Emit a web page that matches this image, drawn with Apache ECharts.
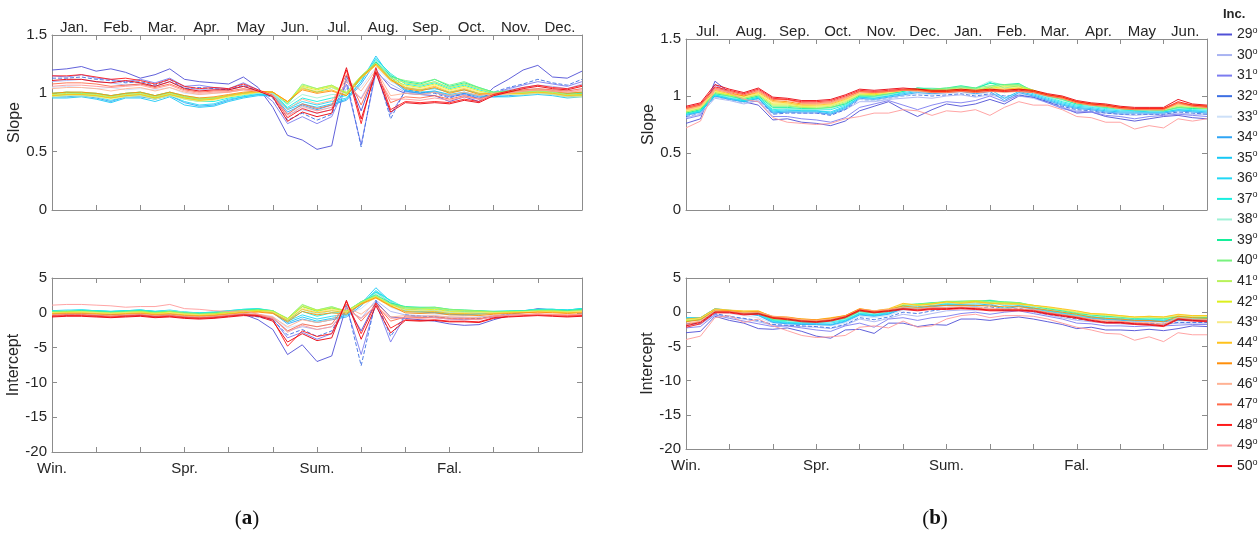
<!DOCTYPE html>
<html>
<head>
<meta charset="utf-8">
<script src="https://cdn.jsdelivr.net/npm/echarts@6/dist/echarts.min.js"></script>
<style>
  html, body { margin: 0; padding: 0; background: #fff; }
  #chart { width: 1260px; height: 534px; }
</style>
</head>
<body>
<div id="chart"></div>
<script>
// Inclination classes (degrees) and their line colours
const inclinations = ['29','30','31','32','33','34','35','36','37','38','39','40','41','42','43','44','45','46','47','48','49','50'];
const lineColors = ['#5050d6','#a9b4f2','#7c7cf0','#3d6fe3','#cde0f8','#2fa5f5','#18c8f5','#22d8f6','#16efe0','#9ff2d6','#14ee9a',
  '#78f27e','#b8f25a','#dcef1c','#f7ea86','#ffc21c','#ff8f0a','#ffb294','#ff6a4a','#ff1a1a','#ff9a9a','#e8000a'];

// Axis labels
const monthsA = ['Jan.','Feb.','Mar.','Apr.','May','Jun.','Jul.','Aug.','Sep.','Oct.','Nov.','Dec.'];
const monthsB = ['Jul.','Aug.','Sep.','Oct.','Nov.','Dec.','Jan.','Feb.','Mar.','Apr.','May','Jun.'];
const seasonLabels = ['Win.','Spr.','Sum.','Fal.'];

// (a) slope, 10-day steps from 1 Jan to 31 Dec, one row per inclination
const slopeA = [
  [1.20,1.21,1.23, 1.19,1.21,1.18, 1.13,1.16,1.21, 1.12,1.10,1.09, 1.08,1.14,1.05, 0.88,0.64,0.60, 0.52,0.55,1.15, 0.85,1.20,1.05, 1.00,0.99,0.98, 0.93,0.97,0.93, 1.05,1.12,1.20, 1.24,1.14,1.13, 1.19],
  [1.10,1.11,1.12, 1.10,1.09,1.07, 1.08,1.06,1.10, 1.05,1.03,1.04, 1.03,1.06,1.02, 0.97,0.82,0.86, 0.83,0.86,1.04, 0.96,1.18,1.08, 1.01,1.00,1.02, 0.98,1.00,0.98, 1.00,1.03,1.05, 1.07,1.06,1.04, 1.08],
  [1.15,1.14,1.16, 1.13,1.12,1.10, 1.12,1.09,1.13, 1.06,1.07,1.05, 1.04,1.09,1.03, 0.93,0.74,0.80, 0.74,0.80,1.08, 0.56,1.18,0.82, 1.02,1.00,1.01, 0.97,0.99,0.96, 1.00,1.04,1.07, 1.10,1.08,1.06, 1.10],
  [1.13,1.13,1.14, 1.12,1.11,1.09, 1.10,1.07,1.12, 1.04,1.05,1.04, 1.03,1.07,1.02, 0.96,0.77,0.83, 0.77,0.82,1.12, 0.54,1.22,0.78, 1.03,1.01,1.00, 0.96,1.00,0.95, 1.01,1.05,1.08, 1.12,1.09,1.07, 1.12],
  [1.05,1.06,1.05, 1.04,1.05,1.03, 1.04,1.03,1.05, 1.00,0.99,1.00, 1.01,1.03,1.01, 0.97,0.83,0.88, 0.85,0.88,1.00, 1.05,1.22,1.10, 1.04,1.03,1.04, 1.01,1.03,1.00, 1.01,1.02,1.03, 1.04,1.03,1.02, 1.04],
  [0.97,0.97,0.98, 0.96,0.93,0.97, 0.97,0.95,0.98, 0.92,0.89,0.90, 0.94,0.97,0.99, 0.98,0.84,0.90, 0.86,0.90,0.94, 1.08,1.27,1.12, 1.02,1.00,1.01, 0.98,1.00,0.97, 0.97,0.98,0.99, 1.00,0.99,0.97, 0.98],
  [0.96,0.96,0.97, 0.95,0.92,0.96, 0.96,0.93,0.97, 0.90,0.88,0.89, 0.93,0.96,0.98, 0.98,0.86,0.91, 0.88,0.91,0.95, 1.10,1.32,1.14, 1.03,1.01,1.02, 0.99,1.01,0.98, 0.97,0.97,0.98, 0.99,0.98,0.96, 0.97],
  [0.97,0.98,0.98, 0.97,0.94,0.97, 0.98,0.95,0.98, 0.93,0.90,0.91, 0.95,0.97,0.99, 0.99,0.87,0.93, 0.90,0.93,0.96, 1.10,1.30,1.16, 1.05,1.03,1.04, 1.01,1.03,1.00, 0.98,0.99,1.00, 1.01,1.00,0.98, 0.99],
  [0.98,0.99,0.99, 0.98,0.96,0.98, 0.99,0.96,0.99, 0.95,0.93,0.93, 0.96,0.98,1.00, 1.00,0.88,0.96, 0.93,0.96,0.98, 1.12,1.29,1.17, 1.08,1.06,1.09, 1.04,1.07,1.03, 1.00,1.01,1.01, 1.02,1.01,0.99, 1.00],
  [0.99,1.00,1.00, 0.99,0.97,0.99, 1.00,0.97,1.00, 0.96,0.94,0.95, 0.97,0.99,1.00, 1.00,0.90,0.99, 0.96,0.99,0.99, 1.13,1.28,1.16, 1.09,1.07,1.10, 1.05,1.08,1.04, 1.01,1.02,1.02, 1.03,1.02,1.00, 1.01],
  [1.00,1.01,1.00, 1.00,0.98,1.00, 1.01,0.98,1.01, 0.97,0.95,0.96, 0.98,1.00,1.01, 1.01,0.91,1.05, 1.01,1.05,1.00, 1.14,1.27,1.15, 1.10,1.08,1.12, 1.06,1.09,1.05, 1.01,1.02,1.02, 1.03,1.02,1.00, 1.01],
  [1.00,1.01,1.01, 1.00,0.98,1.00, 1.01,0.98,1.01, 0.98,0.96,0.96, 0.98,1.00,1.01, 1.01,0.92,1.08, 1.04,1.07,1.00, 1.15,1.26,1.14, 1.11,1.09,1.12, 1.07,1.10,1.05, 1.01,1.02,1.02, 1.03,1.02,1.00, 1.00],
  [0.99,1.00,1.00, 0.99,0.97,0.99, 1.00,0.97,1.00, 0.97,0.95,0.96, 0.98,1.00,1.01, 1.01,0.92,1.07, 1.04,1.07,1.01, 1.15,1.26,1.13, 1.09,1.07,1.10, 1.05,1.08,1.04, 1.00,1.01,1.01, 1.02,1.01,0.99, 0.99],
  [0.98,0.99,0.99, 0.98,0.96,0.98, 0.99,0.96,0.99, 0.96,0.94,0.95, 0.97,0.99,1.01, 1.01,0.92,1.06, 1.03,1.06,1.00, 1.14,1.25,1.12, 1.07,1.05,1.08, 1.03,1.06,1.02, 0.99,1.00,1.00, 1.01,1.00,0.98, 0.98],
  [0.97,0.98,0.98, 0.97,0.95,0.97, 0.98,0.95,0.98, 0.95,0.93,0.94, 0.97,0.99,1.01, 1.01,0.92,1.05, 1.02,1.05,0.99, 1.13,1.24,1.11, 1.06,1.04,1.07, 1.02,1.05,1.01, 0.99,0.99,0.99, 1.00,0.99,0.97, 0.97],
  [0.98,0.99,0.99, 0.98,0.96,0.98, 0.99,0.96,0.99, 0.96,0.94,0.95, 0.98,1.00,1.01, 1.01,0.93,1.04, 1.01,1.03,0.98, 1.13,1.24,1.11, 1.05,1.03,1.06, 1.01,1.04,1.00, 0.99,1.00,1.00, 1.01,1.00,0.98, 0.99],
  [1.00,1.01,1.01, 1.00,0.98,1.00, 1.01,0.98,1.01, 0.98,0.96,0.97, 0.99,1.01,1.02, 1.01,0.93,1.03, 1.00,1.02,0.98, 1.14,1.25,1.12, 1.04,1.02,1.05, 1.00,1.03,0.99, 1.00,1.01,1.02, 1.03,1.02,1.00, 1.01],
  [1.04,1.05,1.05, 1.04,1.02,1.04, 1.05,1.02,1.05, 1.01,0.99,1.00, 1.01,1.03,1.02, 0.99,0.86,0.95, 0.91,0.94,1.12, 1.02,1.20,0.98, 1.00,0.99,1.01, 0.98,1.01,0.98, 1.00,1.01,1.02, 1.03,1.02,1.01, 1.02],
  [1.08,1.09,1.09, 1.08,1.06,1.07, 1.08,1.05,1.08, 1.03,1.01,1.02, 1.02,1.04,1.02, 0.98,0.82,0.91, 0.87,0.90,1.16, 0.90,1.19,0.92, 0.97,0.96,0.98, 0.95,0.98,0.95, 0.99,1.01,1.03, 1.04,1.03,1.02, 1.04],
  [1.15,1.15,1.16, 1.14,1.12,1.13, 1.11,1.08,1.12, 1.06,1.04,1.05, 1.04,1.08,1.03, 0.98,0.79,0.87, 0.83,0.86,1.20, 0.74,1.22,0.86, 0.93,0.92,0.93, 0.92,0.95,0.93, 0.99,1.02,1.05, 1.07,1.05,1.04, 1.07],
  [1.06,1.07,1.07, 1.06,1.05,1.06, 1.07,1.04,1.07, 1.02,1.00,1.01, 1.01,1.03,1.02, 0.98,0.80,0.89, 0.85,0.88,1.10, 0.95,1.17,0.95, 0.95,0.94,0.96, 0.94,0.97,0.95, 0.98,1.00,1.02, 1.03,1.02,1.01, 1.03],
  [1.11,1.12,1.12, 1.10,1.09,1.11, 1.09,1.06,1.10, 1.04,1.02,1.03, 1.03,1.06,1.02, 0.97,0.76,0.84, 0.80,0.83,1.22, 0.78,1.18,0.84, 0.92,0.91,0.92, 0.91,0.94,0.92, 0.98,1.01,1.04, 1.06,1.04,1.03, 1.06]
];

// (a) intercept
const interceptA = [
  [-0.3,-0.2,-0.2, -0.4,-0.3,-0.4, -0.3,-0.5,-0.3, -0.6,-0.7,-0.6, -0.4,-0.2,-1.0, -2.4,-6.0,-4.6, -7.0,-6.2,1.0, -2.6,1.6,-0.6, -0.8,-1.0,-1.2, -1.6,-1.8,-1.7, -1.0,-0.4,0.2, 0.6,0.4,0.2, 0.6],
  [-0.1,0.0,0.0, -0.1,0.0,-0.1, 0.0,-0.2,0.0, -0.3,-0.4,-0.3, -0.2,0.0,-0.3, -0.6,-2.6,-2.0, -2.4,-2.0,0.4, -0.8,1.8,0.2, -0.3,-0.4,-0.5, -0.6,-0.7,-0.6, -0.4,-0.2,0.0, 0.2,0.2,0.1, 0.3],
  [-0.2,-0.2,-0.1, -0.3,-0.2,-0.3, -0.2,-0.4,-0.2, -0.5,-0.5,-0.4, -0.3,-0.1,-0.5, -0.9,-3.6,-2.8, -3.8,-3.0,0.8, -6.0,1.4,-4.2, -0.4,-0.6,-0.7, -0.9,-1.0,-0.9, -0.6,-0.3,0.0, 0.3,0.3,0.1, 0.4],
  [-0.3,-0.3,-0.2, -0.4,-0.3,-0.4, -0.3,-0.5,-0.3, -0.6,-0.6,-0.5, -0.4,-0.2,-0.6, -1.0,-3.2,-2.4, -3.4,-2.6,1.2, -7.6,1.8,-3.4, -0.3,-0.5,-0.6, -0.8,-0.9,-0.8, -0.5,-0.2,0.1, 0.4,0.3,0.2, 0.5],
  [0.0,0.1,0.1, 0.0,0.1,0.0, 0.1,-0.1,0.1, -0.2,-0.3,-0.2, -0.1,0.1,-0.2, -0.5,-2.2,-1.6, -2.0,-1.6,-0.2, 0.6,2.4,0.8, 0.0,-0.1,-0.2, -0.3,-0.4,-0.3, -0.2,0.0,0.1, 0.3,0.3,0.2, 0.4],
  [0.2,0.3,0.3, 0.2,0.1,0.2, 0.3,0.1,0.3, 0.0,-0.2,-0.1, 0.1,0.3,0.4, 0.0,-1.6,-0.9, -1.4,-1.0,-0.6, 1.0,3.0,1.4, 0.2,0.1,0.0, -0.2,-0.3,-0.2, 0.0,0.1,0.2, 0.4,0.4,0.3, 0.5],
  [0.3,0.3,0.4, 0.3,0.2,0.3, 0.4,0.2,0.3, 0.1,-0.1,0.0, 0.2,0.4,0.5, 0.1,-1.4,-0.6, -1.2,-0.8,-0.4, 1.3,3.6,1.6, 0.3,0.2,0.1, -0.1,-0.2,-0.1, 0.1,0.2,0.3, 0.5,0.5,0.4, 0.6],
  [0.3,0.4,0.4, 0.3,0.2,0.3, 0.4,0.2,0.4, 0.1,0.0,0.1, 0.3,0.5,0.6, 0.2,-1.2,-0.3, -0.9,-0.5,-0.2, 1.2,3.2,1.7, 0.5,0.4,0.3, 0.1,0.0,0.1, 0.2,0.2,0.3, 0.5,0.5,0.4, 0.6],
  [0.3,0.3,0.4, 0.3,0.2,0.3, 0.4,0.2,0.3, 0.1,0.0,0.1, 0.3,0.5,0.6, 0.3,-1.1,0.2, -0.5,0.0,0.0, 1.4,3.0,1.8, 0.7,0.6,0.6, 0.3,0.2,0.2, 0.2,0.3,0.3, 0.5,0.5,0.4, 0.6],
  [0.2,0.3,0.3, 0.2,0.1,0.2, 0.3,0.1,0.3, 0.1,-0.1,0.0, 0.2,0.4,0.5, 0.3,-1.0,0.5, -0.2,0.3,0.1, 1.5,2.8,1.6, 0.8,0.7,0.7, 0.4,0.3,0.3, 0.2,0.2,0.3, 0.4,0.4,0.3, 0.5],
  [0.2,0.2,0.3, 0.2,0.1,0.2, 0.3,0.1,0.2, 0.0,-0.1,0.0, 0.2,0.4,0.5, 0.3,-0.9,0.9, 0.2,0.7,0.2, 1.6,2.6,1.4, 0.9,0.8,0.8, 0.5,0.4,0.3, 0.2,0.2,0.3, 0.4,0.4,0.3, 0.5],
  [0.1,0.2,0.2, 0.1,0.0,0.1, 0.2,0.0,0.2, 0.0,-0.2,-0.1, 0.1,0.3,0.4, 0.3,-0.8,1.2, 0.4,0.9,0.2, 1.6,2.5,1.3, 0.8,0.7,0.8, 0.5,0.4,0.3, 0.1,0.2,0.2, 0.3,0.3,0.2, 0.4],
  [0.1,0.1,0.2, 0.1,0.0,0.1, 0.2,0.0,0.1, -0.1,-0.2,-0.1, 0.1,0.3,0.4, 0.2,-0.8,1.1, 0.4,0.8,0.3, 1.5,2.4,1.2, 0.7,0.6,0.7, 0.4,0.3,0.2, 0.1,0.1,0.2, 0.3,0.3,0.2, 0.3],
  [0.0,0.1,0.1, 0.0,-0.1,0.0, 0.1,-0.1,0.1, -0.2,-0.3,-0.2, 0.0,0.2,0.3, 0.2,-0.9,0.9, 0.3,0.6,0.2, 1.4,2.3,1.1, 0.5,0.4,0.5, 0.2,0.1,0.1, 0.0,0.1,0.1, 0.2,0.2,0.1, 0.2],
  [0.0,0.0,0.1, 0.0,-0.1,0.0, 0.0,-0.2,0.0, -0.2,-0.3,-0.3, -0.1,0.1,0.2, 0.1,-1.0,0.7, 0.1,0.5,0.1, 1.3,2.2,1.0, 0.4,0.3,0.3, 0.1,0.0,0.0, 0.0,0.0,0.1, 0.2,0.1,0.1, 0.2],
  [-0.1,0.0,0.0, -0.1,-0.2,-0.1, 0.0,-0.2,-0.1, -0.3,-0.4,-0.3, -0.1,0.1,0.2, 0.0,-1.1,0.5, 0.0,0.3,0.0, 1.2,2.1,0.9, 0.2,0.1,0.2, -0.1,-0.1,-0.2, -0.1,0.0,0.0, 0.1,0.1,0.0, 0.1],
  [-0.2,-0.1,-0.1, -0.2,-0.3,-0.2, -0.1,-0.3,-0.2, -0.4,-0.5,-0.4, -0.2,0.0,0.1, -0.1,-1.3,0.2, -0.3,0.0,-0.2, 1.3,2.2,1.0, 0.0,-0.1,0.0, -0.3,-0.3,-0.4, -0.2,-0.1,0.0, 0.1,0.0,-0.1, 0.0],
  [-0.3,-0.2,-0.2, -0.3,-0.4,-0.3, -0.2,-0.4,-0.3, -0.5,-0.6,-0.5, -0.3,-0.1,-0.2, -0.6,-2.0,-1.0, -1.4,-1.0,0.8, -0.2,1.4,-0.6, -0.4,-0.5,-0.4, -0.6,-0.6,-0.7, -0.4,-0.3,-0.2, -0.1,-0.2,-0.3, -0.2],
  [-0.4,-0.3,-0.3, -0.4,-0.5,-0.4, -0.3,-0.5,-0.4, -0.6,-0.7,-0.6, -0.4,-0.2,-0.3, -0.8,-2.6,-1.6, -2.0,-1.6,1.2, -1.2,1.2,-1.2, -0.6,-0.7,-0.6, -0.8,-0.8,-0.9, -0.5,-0.4,-0.3, -0.2,-0.3,-0.4, -0.3],
  [-0.5,-0.4,-0.4, -0.5,-0.6,-0.5, -0.4,-0.6,-0.5, -0.7,-0.8,-0.7, -0.5,-0.3,-0.4, -1.0,-4.8,-2.6, -3.4,-3.0,1.6, -3.0,1.4,-2.2, -1.0,-1.1,-1.0, -1.2,-1.2,-1.3, -0.7,-0.5,-0.4, -0.3,-0.4,-0.5, -0.4],
  [1.1,1.2,1.2, 1.1,1.0,0.8, 0.9,0.9,1.2, 0.6,0.5,0.3, 0.2,0.3,-0.2, -0.7,-2.8,-1.8, -2.4,-2.0,0.6, -0.8,1.0,-0.8, -0.7,-0.8,-0.7, -0.9,-0.9,-1.0, -0.5,-0.4,-0.3, -0.2,-0.3,-0.3, -0.2],
  [-0.6,-0.5,-0.5, -0.6,-0.7,-0.6, -0.5,-0.7,-0.6, -0.8,-0.9,-0.8, -0.6,-0.4,-0.5, -1.2,-4.2,-3.0, -4.0,-3.6,1.8, -3.8,1.0,-2.9, -1.1,-1.2,-1.1, -1.3,-1.3,-1.4, -0.8,-0.6,-0.5, -0.4,-0.5,-0.6, -0.5]
];

// (b) slope, 10-day steps from 1 Jul to 30 Jun
const slopeB = [
  [0.76,0.80,1.13, 1.03,0.95,0.92, 0.79,0.80,0.77, 0.76,0.74,0.78, 0.87,0.91,0.95, 0.88,0.82,0.88, 0.93,0.91,0.93, 0.97,0.93,1.00, 0.99,0.95,0.90, 0.85,0.86,0.82, 0.80,0.78,0.80, 0.82,0.83,0.81, 0.80],
  [0.81,0.84,0.98, 0.96,0.93,0.96, 0.85,0.86,0.85, 0.85,0.84,0.88, 0.95,0.95,0.97, 0.98,0.99,0.98, 1.00,1.01,0.99, 1.01,0.98,1.00, 0.98,0.94,0.90, 0.87,0.86,0.85, 0.84,0.83,0.84, 0.84,0.85,0.84, 0.84],
  [0.80,0.83,1.10, 1.02,0.96,0.95, 0.82,0.82,0.80, 0.79,0.77,0.81, 0.90,0.93,0.96, 0.92,0.88,0.92, 0.95,0.94,0.96, 1.00,0.95,1.01, 0.99,0.94,0.89, 0.86,0.86,0.83, 0.82,0.80,0.82, 0.83,0.84,0.83, 0.82],
  [0.82,0.85,0.99, 0.97,0.94,0.97, 0.84,0.85,0.85, 0.85,0.83,0.88, 0.97,0.96,0.98, 1.00,1.01,1.00, 1.01,1.02,1.00, 1.02,1.00,1.01, 0.99,0.95,0.91, 0.88,0.87,0.85, 0.84,0.84,0.84, 0.84,0.86,0.85, 0.84],
  [0.83,0.85,0.99, 0.97,0.94,0.97, 0.86,0.87,0.87, 0.87,0.86,0.90, 0.97,0.96,0.98, 1.00,1.02,1.01, 1.02,1.03,1.01, 1.03,0.99,1.02, 1.00,0.96,0.92, 0.90,0.88,0.87, 0.86,0.86,0.85, 0.85,0.87,0.86, 0.85],
  [0.83,0.86,1.00, 0.97,0.95,0.98, 0.85,0.86,0.86, 0.86,0.84,0.89, 0.98,0.97,0.99, 1.01,1.03,1.02, 1.03,1.04,1.02, 1.04,0.96,1.03, 1.00,0.96,0.92, 0.89,0.88,0.86, 0.85,0.85,0.85, 0.85,0.87,0.86, 0.85],
  [0.84,0.86,1.00, 0.98,0.95,0.98, 0.86,0.87,0.87, 0.87,0.85,0.90, 0.99,0.98,1.00, 1.02,1.04,1.03, 1.04,1.05,1.03, 1.06,0.98,1.04, 1.01,0.97,0.93, 0.90,0.89,0.87, 0.86,0.86,0.86, 0.86,0.88,0.87, 0.86],
  [0.84,0.87,1.01, 0.98,0.96,0.99, 0.87,0.88,0.87, 0.87,0.86,0.91, 0.99,0.98,1.00, 1.03,1.05,1.04, 1.05,1.06,1.04, 1.08,1.03,1.06, 1.02,0.98,0.94, 0.91,0.90,0.88, 0.87,0.87,0.86, 0.86,0.88,0.87, 0.87],
  [0.85,0.87,1.01, 0.99,0.96,0.99, 0.88,0.89,0.88, 0.88,0.88,0.92, 1.00,0.99,1.01, 1.04,1.07,1.06, 1.06,1.08,1.06, 1.12,1.07,1.09, 1.03,0.99,0.95, 0.92,0.91,0.89, 0.88,0.87,0.87, 0.87,0.89,0.88, 0.88],
  [0.85,0.88,1.02, 0.99,0.97,1.00, 0.89,0.89,0.88, 0.88,0.89,0.93, 1.00,0.99,1.01, 1.04,1.07,1.07, 1.06,1.08,1.07, 1.13,1.09,1.10, 1.03,0.99,0.96, 0.93,0.91,0.90, 0.88,0.88,0.87, 0.87,0.89,0.89, 0.88],
  [0.85,0.88,1.02, 1.00,0.97,1.00, 0.90,0.90,0.89, 0.89,0.90,0.93, 1.00,1.00,1.02, 1.04,1.07,1.06, 1.07,1.09,1.07, 1.11,1.10,1.11, 1.04,1.00,0.97, 0.93,0.92,0.90, 0.89,0.88,0.88, 0.87,0.90,0.89, 0.89],
  [0.86,0.89,1.03, 1.00,0.98,1.01, 0.91,0.91,0.90, 0.89,0.90,0.94, 1.01,1.00,1.02, 1.05,1.06,1.06, 1.07,1.08,1.07, 1.09,1.10,1.10, 1.05,1.00,0.97, 0.94,0.92,0.90, 0.89,0.88,0.88, 0.87,0.90,0.90, 0.89],
  [0.86,0.89,1.03, 1.01,0.98,1.01, 0.92,0.92,0.90, 0.90,0.91,0.95, 1.01,1.01,1.03, 1.05,1.06,1.05, 1.06,1.07,1.06, 1.08,1.09,1.09, 1.05,1.01,0.98, 0.94,0.92,0.91, 0.89,0.88,0.88, 0.88,0.91,0.90, 0.89],
  [0.87,0.90,1.04, 1.01,0.99,1.02, 0.93,0.93,0.91, 0.91,0.92,0.96, 1.02,1.01,1.03, 1.05,1.06,1.05, 1.05,1.06,1.05, 1.07,1.08,1.08, 1.05,1.01,0.98, 0.94,0.93,0.91, 0.89,0.89,0.89, 0.88,0.92,0.91, 0.90],
  [0.87,0.90,1.04, 1.02,0.99,1.02, 0.94,0.93,0.92, 0.91,0.92,0.96, 1.02,1.02,1.03, 1.05,1.05,1.04, 1.04,1.05,1.04, 1.06,1.07,1.07, 1.04,1.01,0.98, 0.94,0.92,0.91, 0.89,0.89,0.88, 0.88,0.92,0.91, 0.90],
  [0.88,0.91,1.05, 1.02,1.00,1.03, 0.95,0.94,0.92, 0.92,0.93,0.97, 1.03,1.02,1.04, 1.05,1.05,1.04, 1.04,1.05,1.04, 1.06,1.06,1.07, 1.04,1.01,0.99, 0.95,0.93,0.92, 0.90,0.89,0.89, 0.89,0.93,0.92, 0.91],
  [0.89,0.92,1.06, 1.03,1.00,1.04, 0.96,0.95,0.93, 0.93,0.94,0.98, 1.04,1.03,1.04, 1.05,1.05,1.04, 1.04,1.05,1.04, 1.05,1.05,1.06, 1.04,1.01,0.99, 0.95,0.93,0.92, 0.90,0.89,0.89, 0.89,0.94,0.92, 0.91],
  [0.88,0.91,1.06, 1.04,1.01,1.04, 0.97,0.96,0.94, 0.93,0.94,0.98, 1.03,1.03,1.04, 1.05,1.04,1.03, 1.03,1.04,1.03, 1.04,1.03,1.04, 1.03,1.00,0.98, 0.94,0.92,0.91, 0.89,0.89,0.88, 0.88,0.93,0.91, 0.90],
  [0.89,0.92,1.07, 1.04,1.01,1.05, 0.97,0.97,0.94, 0.94,0.95,0.99, 1.04,1.03,1.04, 1.05,1.05,1.03, 1.03,1.04,1.03, 1.04,1.04,1.04, 1.03,1.00,0.98, 0.94,0.92,0.91, 0.89,0.88,0.88, 0.88,0.94,0.91, 0.90],
  [0.90,0.93,1.08, 1.05,1.02,1.06, 0.98,0.97,0.95, 0.95,0.96,1.00, 1.05,1.04,1.05, 1.06,1.06,1.04, 1.04,1.05,1.04, 1.05,1.04,1.05, 1.04,1.01,0.99, 0.95,0.93,0.92, 0.90,0.89,0.89, 0.89,0.95,0.92, 0.91],
  [0.72,0.78,1.06, 1.03,0.97,0.95, 0.81,0.77,0.76, 0.75,0.76,0.80, 0.82,0.85,0.85, 0.88,0.87,0.83, 0.87,0.86,0.88, 0.83,0.90,0.95, 0.92,0.92,0.88, 0.82,0.81,0.77, 0.77,0.71,0.74, 0.72,0.80,0.78, 0.80],
  [0.91,0.94,1.10, 1.06,1.03,1.07, 0.99,0.98,0.96, 0.96,0.97,1.01, 1.06,1.05,1.06, 1.07,1.06,1.05, 1.05,1.06,1.05, 1.06,1.05,1.06, 1.05,1.02,1.00, 0.96,0.94,0.93, 0.91,0.90,0.90, 0.90,0.97,0.93, 0.92]
];

// (b) intercept
const interceptB = [
  [-3.0,-2.8,-0.6, -1.2,-1.6,-2.4, -2.5,-2.3,-2.8, -3.5,-3.8,-2.6, -2.5,-3.1,-1.6, -1.6,-2.1,-1.8, -1.9,-1.0,-1.0, -1.2,-0.9,-0.7, -1.0,-1.4,-1.8, -2.4,-2.2,-2.6, -2.6,-2.7,-2.5, -2.7,-2.4,-2.0, -2.1],
  [-1.9,-1.8,-0.3, -0.7,-1.0,-1.4, -1.9,-2.0,-2.1, -2.2,-2.4,-1.9, -1.0,-1.4,-0.9, -0.3,-0.6,-0.2, 0.2,0.3,0.3, 0.5,0.2,0.4, 0.0,-0.4,-0.8, -1.2,-1.4,-1.6, -1.7,-1.8,-1.7, -1.8,-1.6,-1.6, -1.6],
  [-2.3,-2.1,-0.4, -0.9,-1.3,-1.7, -2.1,-2.0,-2.3, -2.6,-2.8,-2.0, -1.6,-2.2,-1.0, -0.8,-1.2,-0.8, -0.6,-0.2,0.0, -0.3,0.0,0.2, -0.2,-0.6,-1.0, -1.6,-1.7,-2.0, -2.0,-2.1,-2.0, -2.0,-1.9,-1.8, -1.8],
  [-1.7,-1.6,-0.2, -0.6,-0.9,-1.2, -1.8,-1.9,-2.0, -2.1,-2.3,-1.8, -0.8,-1.1,-0.7, 0.0,-0.2,0.2, 0.5,0.6,0.5, 0.8,0.3,0.6, 0.1,-0.3,-0.6, -1.0,-1.2,-1.4, -1.5,-1.6,-1.6, -1.7,-1.5,-1.5, -1.5],
  [-1.3,-1.2,0.1, -0.2,-0.5,-0.8, -1.6,-1.7,-1.8, -1.9,-2.0,-1.6, -0.6,-0.8,-0.5, 0.3,0.3,0.6, 0.8,0.9,0.8, 1.0,0.5,0.8, 0.3,-0.1,-0.4, -0.8,-1.0,-1.2, -1.3,-1.4,-1.4, -1.5,-1.3,-1.3, -1.3],
  [-0.9,-0.9,0.4, 0.1,-0.2,-0.5, -1.5,-1.7,-1.8, -1.8,-1.9,-1.4, -0.4,-0.6,-0.3, 0.5,0.5,0.8, 1.0,1.0,0.9, 1.1,0.4,0.9, 0.4,0.0,-0.3, -0.7,-0.9,-1.1, -1.2,-1.3,-1.3, -1.4,-1.2,-1.2, -1.2],
  [-0.8,-0.8,0.5, 0.2,-0.1,-0.4, -1.4,-1.6,-1.7, -1.7,-1.8,-1.3, -0.3,-0.5,-0.2, 0.6,0.6,0.9, 1.1,1.1,1.0, 1.2,0.6,1.0, 0.5,0.1,-0.2, -0.6,-0.8,-1.0, -1.1,-1.2,-1.2, -1.3,-1.1,-1.1, -1.1],
  [-0.9,-0.8,0.5, 0.3,0.0,-0.3, -1.3,-1.5,-1.6, -1.6,-1.6,-1.2, -0.2,-0.4,-0.1, 0.7,0.8,1.0, 1.2,1.2,1.2, 1.4,1.0,1.1, 0.6,0.2,-0.1, -0.5,-0.7,-0.9, -1.0,-1.1,-1.1, -1.2,-1.0,-1.0, -1.0],
  [-1.1,-0.9,0.4, 0.2,0.0,-0.2, -1.2,-1.4,-1.5, -1.5,-1.4,-1.1, -0.1,-0.3,0.0, 0.8,1.1,1.2, 1.3,1.4,1.4, 1.7,1.3,1.2, 0.7,0.3,0.0, -0.4,-0.6,-0.8, -0.9,-1.0,-1.0, -1.1,-0.9,-0.9, -0.9],
  [-1.2,-1.0,0.3, 0.1,-0.1,-0.1, -1.1,-1.3,-1.4, -1.4,-1.3,-1.0, 0.0,-0.2,0.1, 0.9,1.1,1.3, 1.4,1.5,1.5, 1.8,1.4,1.3, 0.8,0.4,0.1, -0.3,-0.5,-0.7, -0.8,-0.9,-0.9, -1.0,-0.8,-0.8, -0.8],
  [-1.3,-1.1,0.2, 0.1,-0.1,-0.1, -1.1,-1.2,-1.3, -1.4,-1.2,-0.9, 0.1,-0.1,0.2, 1.0,1.2,1.4, 1.5,1.6,1.6, 1.7,1.5,1.4, 0.9,0.5,0.2, -0.2,-0.4,-0.6, -0.7,-0.9,-0.8, -0.9,-0.7,-0.7, -0.8],
  [-1.3,-1.0,0.3, 0.1,0.0,0.0, -1.0,-1.1,-1.2, -1.3,-1.1,-0.8, 0.2,0.0,0.3, 1.1,1.2,1.3, 1.6,1.6,1.7, 1.6,1.5,1.4, 1.0,0.6,0.3, -0.1,-0.3,-0.5, -0.7,-0.8,-0.8, -0.9,-0.6,-0.7, -0.7],
  [-1.2,-1.0,0.3, 0.2,0.0,0.1, -0.9,-1.0,-1.1, -1.3,-1.0,-0.7, 0.3,0.0,0.3, 1.1,1.1,1.3, 1.5,1.5,1.7, 1.4,1.4,1.3, 1.0,0.7,0.4, 0.0,-0.3,-0.4, -0.6,-0.8,-0.7, -0.8,-0.5,-0.6, -0.6],
  [-1.2,-0.9,0.4, 0.2,0.1,0.1, -0.8,-0.9,-1.1, -1.2,-0.9,-0.6, 0.4,0.1,0.4, 1.2,1.1,1.2, 1.5,1.4,1.6, 1.3,1.3,1.2, 1.0,0.7,0.4, 0.1,-0.2,-0.3, -0.5,-0.7,-0.6, -0.7,-0.4,-0.5, -0.5],
  [-1.1,-0.9,0.4, 0.3,0.1,0.2, -0.8,-0.9,-1.0, -1.2,-0.9,-0.6, 0.4,0.1,0.4, 1.2,1.0,1.1, 1.4,1.3,1.4, 1.2,1.2,1.1, 0.9,0.7,0.4, 0.1,-0.3,-0.4, -0.6,-0.8,-0.7, -0.8,-0.4,-0.6, -0.6],
  [-1.0,-0.8,0.5, 0.3,0.2,0.2, -0.7,-0.8,-1.0, -1.1,-0.8,-0.5, 0.5,0.2,0.5, 1.3,1.0,1.2, 1.5,1.3,1.5, 1.3,1.2,1.2, 1.0,0.8,0.5, 0.2,-0.2,-0.3, -0.5,-0.7,-0.6, -0.7,-0.3,-0.5, -0.5],
  [-1.4,-1.1,0.3, 0.2,0.0,0.1, -0.6,-0.7,-1.0, -1.1,-0.9,-0.5, 0.5,0.2,0.4, 0.9,0.7,0.9, 1.0,1.0,1.0, 0.9,0.8,0.8, 0.6,0.3,0.0, -0.3,-0.7,-0.9, -1.0,-1.2,-1.2, -1.4,-0.6,-0.8, -0.9],
  [-1.6,-1.3,0.2, 0.1,-0.1,0.0, -0.6,-0.8,-1.1, -1.2,-1.0,-0.6, 0.4,0.2,0.4, 0.7,0.5,0.7, 0.7,0.8,0.7, 0.6,0.5,0.5, 0.4,0.0,-0.3, -0.6,-1.0,-1.2, -1.3,-1.5,-1.5, -1.7,-0.8,-1.0, -1.1],
  [-1.8,-1.4,0.1, 0.1,-0.2,-0.1, -0.7,-0.9,-1.2, -1.3,-1.1,-0.6, 0.4,0.1,0.3, 0.6,0.4,0.6, 0.6,0.7,0.6, 0.4,0.4,0.4, 0.3,-0.1,-0.4, -0.7,-1.1,-1.4, -1.4,-1.6,-1.7, -1.9,-0.9,-1.1, -1.2],
  [-2.2,-1.7,-0.1, -0.1,-0.4,-0.3, -0.9,-1.1,-1.4, -1.5,-1.3,-0.8, 0.2,-0.1,0.1, 0.4,0.2,0.4, 0.4,0.5,0.4, 0.2,0.2,0.2, 0.1,-0.3,-0.6, -0.9,-1.3,-1.6, -1.6,-1.8,-1.9, -2.1,-1.1,-1.3, -1.4],
  [-4.0,-3.5,-0.8, -0.5,-1.5,-1.0, -2.0,-2.7,-3.4, -3.7,-3.6,-3.4, -2.2,-2.0,-2.3, -1.3,-2.2,-2.0, -1.0,-0.5,-0.3, -0.8,-0.5,-0.5, -0.6,-1.0,-1.6, -2.2,-2.6,-3.1, -3.2,-4.1,-3.6, -4.3,-3.0,-3.3, -3.3],
  [-2.0,-1.5,0.0, 0.0,-0.3,-0.2, -0.8,-1.0,-1.3, -1.4,-1.2,-0.7, 0.3,0.0,0.2, 0.5,0.3,0.5, 0.5,0.6,0.5, 0.3,0.3,0.3, 0.2,-0.2,-0.5, -0.8,-1.2,-1.5, -1.5,-1.7,-1.8, -2.0,-1.0,-1.2, -1.3]
];

const FONT = '"Liberation Sans", Arial, Helvetica, sans-serif';
const TXT = '#262626';
const AXIS = '#8c8c8c';

// Four panels: (a) slope / intercept on the left, (b) slope / intercept on the right
const panels = [
  { grid: { left: 52, top: 35, width: 530, height: 175 }, months: monthsA, showMonths: true, showSeasons: false,
    y: { min: 0, max: 1.5, interval: 0.5 }, title: 'Slope', rows: slopeA },
  { grid: { left: 52, top: 278, width: 530, height: 174 }, months: monthsA, showMonths: false, showSeasons: true,
    y: { min: -20, max: 5, interval: 5 }, title: 'Intercept', rows: interceptA },
  { grid: { left: 686, top: 39, width: 521, height: 171 }, months: monthsB, showMonths: true, showSeasons: false,
    y: { min: 0, max: 1.5, interval: 0.5 }, title: 'Slope', rows: slopeB },
  { grid: { left: 686, top: 278, width: 521, height: 171 }, months: monthsB, showMonths: false, showSeasons: true,
    y: { min: -20, max: 5, interval: 5 }, title: 'Intercept', rows: interceptB }
];

const axisLine = { show: true, onZero: false, lineStyle: { color: AXIS, width: 1 } };
const axisTick = { show: true, inside: true, length: 5, lineStyle: { color: AXIS, width: 1 } };

const grids = [], xAxes = [], yAxes = [], series = [];
panels.forEach((p, g) => {
  grids.push(Object.assign({ containLabel: false }, p.grid));
  // bottom axis carries the data (10-day steps), ticks every month, season labels
  xAxes.push({
    type: 'value', gridIndex: g, position: 'bottom', min: 0, max: 36, interval: 3,
    axisLine, axisTick, splitLine: { show: false },
    axisLabel: {
      show: p.showSeasons, margin: 9, fontSize: 15, color: TXT, fontFamily: FONT,
      formatter: v => (v % 9 === 0 && v < 36) ? seasonLabels[v / 9] : ''
    }
  });
  // top axis: month names centred in each month
  xAxes.push({
    type: 'category', gridIndex: g, position: 'top', data: p.months, boundaryGap: true,
    axisLine, axisTick: Object.assign({ alignWithLabel: false, interval: 0 }, axisTick), splitLine: { show: false },
    axisLabel: { show: p.showMonths, interval: 0, margin: 0, fontSize: 15, color: TXT, fontFamily: FONT }
  });
  yAxes.push({
    type: 'value', gridIndex: g, position: 'left', min: p.y.min, max: p.y.max, interval: p.y.interval,
    name: p.title, nameLocation: 'middle', nameGap: 28, nameRotate: 90,
    nameTextStyle: { fontSize: 16, color: TXT, fontFamily: FONT },
    axisLine, axisTick, splitLine: { show: false },
    axisLabel: { margin: 5, fontSize: 15, color: TXT, fontFamily: FONT }
  });
  yAxes.push({
    type: 'value', gridIndex: g, position: 'right', min: p.y.min, max: p.y.max, interval: p.y.interval,
    axisLine, axisTick, splitLine: { show: false }, axisLabel: { show: false }
  });
  p.rows.forEach((row, k) => {
    series.push({
      type: 'line', name: inclinations[k], xAxisIndex: 2 * g, yAxisIndex: 2 * g,
      data: row.map((v, i) => [i, v]),
      symbol: 'none', silent: true,
      lineStyle: { width: 1, color: lineColors[k], opacity: 0.9, type: k === 3 ? [4, 2] : 'solid' },
      itemStyle: { color: lineColors[k] },
      emphasis: { disabled: true }
    });
  });
});

const chart = echarts.init(document.getElementById('chart'), null, { renderer: 'canvas' });
chart.setOption({
  backgroundColor: '#fff',
  animation: false,
  grid: grids,
  xAxis: xAxes,
  yAxis: yAxes,
  series,
  legend: {
    data: inclinations, orient: 'vertical', left: 1217, top: 26, padding: 0,
    icon: 'rect', itemWidth: 15, itemHeight: 2, itemGap: 3.55,
    formatter: n => n + '{s|o}',
    textStyle: {
      fontSize: 14, color: TXT, fontFamily: FONT, lineHeight: 14,
      rich: { s: { fontSize: 9, color: TXT, fontFamily: FONT, lineHeight: 14, padding: [0, 0, 8, 0] } }
    },
    selectedMode: false
  },
  graphic: [
    { type: 'text', left: 1223, top: 8,
      style: { text: 'Inc.', fontSize: 13, fontWeight: 'bold', fill: TXT, fontFamily: FONT } },
    { type: 'text', x: 247, y: 519,
      style: { text: '({b|a})', align: 'center', verticalAlign: 'middle', fontSize: 21, fill: '#111',
        fontFamily: '"Liberation Serif", "DejaVu Serif", serif',
        rich: { b: { fontSize: 21, fontWeight: 'bold', fill: '#111', fontFamily: '"Liberation Serif", serif' } } } },
    { type: 'text', x: 935, y: 519,
      style: { text: '({b|b})', align: 'center', verticalAlign: 'middle', fontSize: 21, fill: '#111',
        fontFamily: '"Liberation Serif", "DejaVu Serif", serif',
        rich: { b: { fontSize: 21, fontWeight: 'bold', fill: '#111', fontFamily: '"Liberation Serif", serif' } } } }
  ]
});
</script>
</body>
</html>
